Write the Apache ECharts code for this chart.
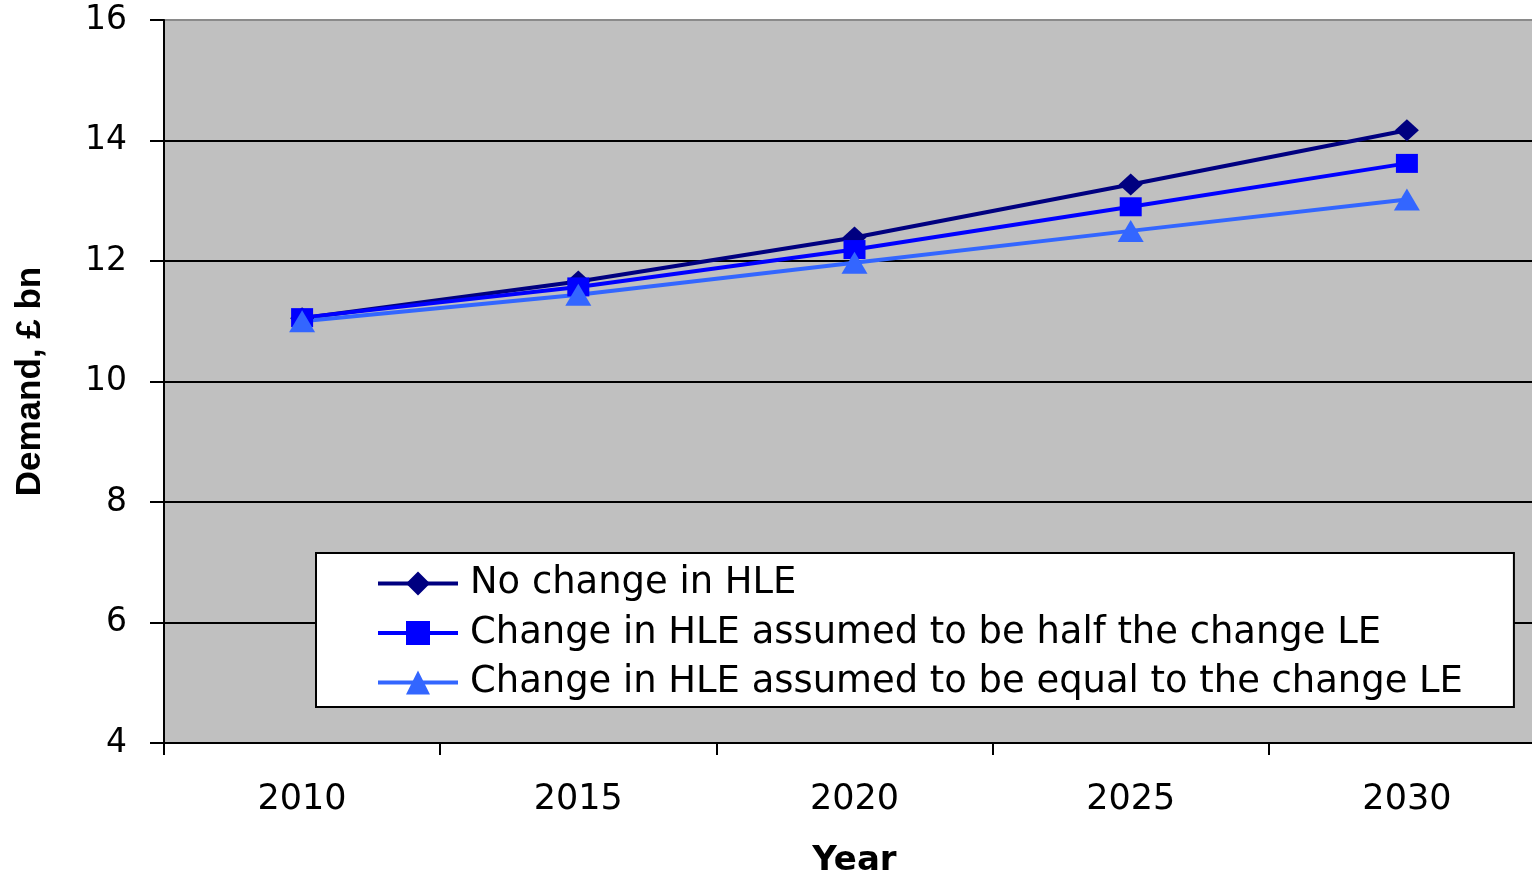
<!DOCTYPE html>
<html>
<head>
<meta charset="utf-8">
<script src="https://cdn.jsdelivr.net/npm/echarts@6/dist/echarts.min.js"></script>
<style>
html,body{margin:0;padding:0;background:#fff;}
#c{width:1532px;height:874px;}
</style>
</head>
<body>
<div id="c"></div>
<script>
const categories = ['2010', '2015', '2020', '2025', '2030'];
const seriesNames = [
  'No change in HLE',
  'Change in HLE assumed to be half the change LE',
  'Change in HLE assumed to be equal to the change LE'
];
const noChange = [11.05, 11.66, 12.39, 13.27, 14.17];
const halfChange = [11.06, 11.57, 12.19, 12.90, 13.62];
const equalChange = [11.00, 11.44, 11.97, 12.50, 13.02];
const yTicks = [4, 6, 8, 10, 12, 14, 16];

const chart = echarts.init(document.getElementById('c'));
const FONT = 'DejaVu Sans';
function mk(name, data, color, symbol, size) {
  return {
    name: name, type: 'line', data: data,
    symbol: symbol, symbolSize: size,
    lineStyle: {color: color, width: 4},
    itemStyle: {color: color},
    emphasis: {disabled: true},
    animation: false
  };
}
chart.setOption({
  animation: false,
  backgroundColor: '#ffffff',
  grid: {
    show: true, left: 164, top: 20, right: -13, bottom: 131,
    outerBoundsMode: 'none', containLabel: false,
    backgroundColor: '#c0c0c0', borderWidth: 0
  },
  legend: {
    orient: 'vertical', left: 316, top: 553,
    backgroundColor: '#ffffff', borderColor: '#000', borderWidth: 2,
    padding: [12, 51, 6, 60],
    itemWidth: 80, itemHeight: 30, itemGap: 12.5,
    lineStyle: {width: 4},
    selectedMode: false,
    textStyle: {fontFamily: FONT, fontSize: 36.9, lineHeight: 36, color: '#000', padding: [0, 0, 0, 7]},
    data: seriesNames
  },
  xAxis: {
    type: 'category', data: categories, boundaryGap: true,
    name: 'Year', nameLocation: 'middle', nameGap: 101,
    nameTextStyle: {fontFamily: FONT, fontWeight: 'bold', fontSize: 34, color: '#000'},
    axisLine: {lineStyle: {color: '#000', width: 2}},
    axisTick: {show: true, length: 12, interval: 0, lineStyle: {color: '#000', width: 2}},
    axisLabel: {fontFamily: FONT, fontSize: 35, color: '#000', margin: 39, interval: 0},
    splitLine: {show: false}
  },
  yAxis: {
    type: 'value', min: yTicks[0], max: yTicks[yTicks.length - 1], interval: 2,
    name: 'Demand, £ bn', nameLocation: 'middle', nameRotate: 90, nameGap: 116,
    nameTextStyle: {fontFamily: '"Liberation Sans", Arial', fontWeight: 'bold', fontSize: 35, color: '#000'},
    axisLine: {show: true, lineStyle: {color: '#000', width: 2}},
    axisTick: {show: true, length: 14, lineStyle: {color: '#000', width: 2}},
    axisLabel: {fontFamily: FONT, fontSize: 33, color: '#000', margin: 37},
    splitLine: {show: true, lineStyle: {color: ['#000', '#000', '#000', '#000', '#000', '#000', '#8a8a8a'], width: 2}}
  },
  series: [
    mk(seriesNames[0], noChange, '#000080', 'diamond', [24, 22]),
    mk(seriesNames[1], halfChange, '#0000ff', 'rect', [22, 19]),
    mk(seriesNames[2], equalChange, '#3366ff', 'triangle', [26, 22])
  ]
});
</script>
</body>
</html>
